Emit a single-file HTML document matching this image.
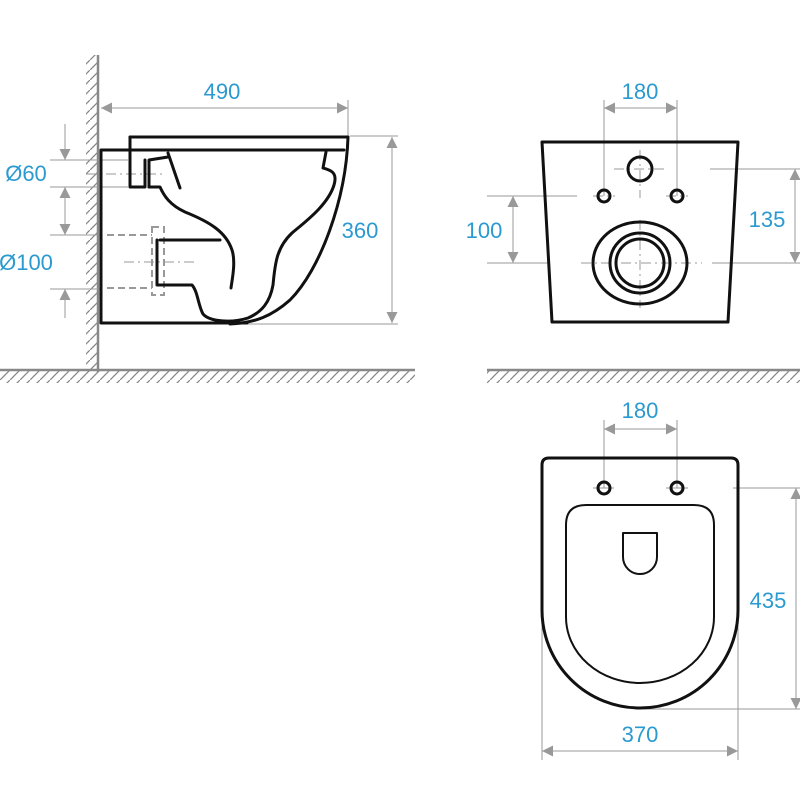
<!DOCTYPE html>
<html><head><meta charset="utf-8"><style>
html,body{margin:0;padding:0;background:#fff}
svg{display:block}
text{font-family:"Liberation Sans","DejaVu Sans",sans-serif;font-size:22px;fill:#2b9ad0}
</style></head><body>
<svg width="800" height="800" viewBox="0 0 800 800" xmlns="http://www.w3.org/2000/svg">
<defs>
<marker id="a" viewBox="0 0 10 10" refX="10" refY="5" markerWidth="17" markerHeight="11" markerUnits="userSpaceOnUse" orient="auto-start-reverse"><path d="M0,0L10,5L0,10z" fill="#999"/></marker>
<pattern id="hv" width="10" height="10" patternUnits="userSpaceOnUse"><path d="M0,10L10,0" stroke="#888" stroke-width="1.3"/></pattern>
</defs>
<g fill="none" stroke="#999" stroke-width="1">
<rect x="86" y="55" width="11" height="317" fill="url(#hv)" stroke="none"/>
<line x1="98" y1="55" x2="98" y2="372" stroke="#888" stroke-width="2.5"/>
<rect x="0" y="371" width="415" height="12" fill="url(#hv)" stroke="none"/>
<line x1="0" y1="370" x2="415" y2="370" stroke="#888" stroke-width="2.5"/>
<rect x="487" y="371" width="313" height="12" fill="url(#hv)" stroke="none"/>
<line x1="487" y1="370" x2="800" y2="370" stroke="#888" stroke-width="2.5"/>

<line x1="101" y1="108" x2="348" y2="108" marker-start="url(#a)" marker-end="url(#a)"/>
<line x1="348" y1="100" x2="348" y2="137"/>
<line x1="350" y1="136" x2="398" y2="136"/>
<line x1="247" y1="324" x2="398" y2="324"/>
<line x1="392" y1="137" x2="392" y2="323" marker-start="url(#a)" marker-end="url(#a)"/>
<line x1="50" y1="160" x2="128" y2="160"/>
<line x1="50" y1="187" x2="128" y2="187"/>
<line x1="50" y1="235" x2="101" y2="235"/>
<line x1="50" y1="289" x2="101" y2="289"/>
<line x1="65" y1="124" x2="65" y2="160" marker-end="url(#a)"/>
<line x1="65" y1="187" x2="65" y2="235" marker-start="url(#a)" marker-end="url(#a)"/>
<line x1="65" y1="318" x2="65" y2="289" marker-end="url(#a)"/>
<line x1="86" y1="174" x2="165" y2="174" stroke-dasharray="10,4,2,4"/>
<line x1="124" y1="262" x2="195" y2="262" stroke-dasharray="10,4,2,4"/>
<g stroke="#999" stroke-width="2" stroke-dasharray="7,4">
<rect x="152" y="227" width="12" height="68"/>
<line x1="107" y1="235" x2="152" y2="235"/>
<line x1="107" y1="288" x2="152" y2="288"/>
</g>

<line x1="604" y1="100" x2="604" y2="196"/>
<line x1="677" y1="100" x2="677" y2="196"/>
<line x1="604" y1="108" x2="677" y2="108" marker-start="url(#a)" marker-end="url(#a)"/>
<line x1="487" y1="196" x2="577" y2="196"/>
<line x1="487" y1="263" x2="548" y2="263"/>
<line x1="712" y1="263" x2="800" y2="263"/>
<line x1="710" y1="169" x2="800" y2="169"/>
<line x1="513" y1="196" x2="513" y2="263" marker-start="url(#a)" marker-end="url(#a)"/>
<line x1="795" y1="169" x2="795" y2="263" marker-start="url(#a)" marker-end="url(#a)"/>
<g stroke-dasharray="10,4,2,4">
<line x1="581" y1="263" x2="702" y2="263"/>
<line x1="640" y1="220" x2="640" y2="308"/>
<line x1="640" y1="150" x2="640" y2="198"/>
<line x1="614" y1="169" x2="666" y2="169"/>
<line x1="593" y1="196" x2="615" y2="196"/>
<line x1="666" y1="196" x2="688" y2="196"/>
</g>

<line x1="604" y1="420" x2="604" y2="488"/>
<line x1="677" y1="420" x2="677" y2="488"/>
<line x1="604" y1="429" x2="677" y2="429" marker-start="url(#a)" marker-end="url(#a)"/>
<line x1="733" y1="488" x2="800" y2="488"/>
<line x1="640" y1="709" x2="800" y2="709"/>
<line x1="796" y1="488" x2="796" y2="709" marker-start="url(#a)" marker-end="url(#a)"/>
<line x1="542" y1="610" x2="542" y2="760"/>
<line x1="738" y1="610" x2="738" y2="760"/>
<line x1="542" y1="751" x2="738" y2="751" marker-start="url(#a)" marker-end="url(#a)"/>
<line x1="593" y1="488" x2="614" y2="488"/>
<line x1="666" y1="488" x2="688" y2="488"/>
</g>

<g fill="none" stroke="#111" stroke-width="3" stroke-linejoin="round" stroke-linecap="round">
<path d="M101,150 H344 M101,150 V323 H247"/>
<path d="M130,137 H348 C346,200 320,270 290,300 C272,316 255,323 230,324"/>
<path d="M130,137 V187 H145 V160 M149,187 V160 L168,157"/>
<path d="M168,153 L180,188"/>
<path d="M149,187 H160 C164,196 170,205 185,212 C210,222 226,232 232,250 C236,262 232,280 231,288"/>
<path d="M160,240 H220"/>
<path d="M326,152 L323,168 C330,170 338,172 334,185 C328,205 305,222 292,233 C276,248 275,265 273,285 C270,302 262,312 248,318 C232,323 210,322 203,314 C198,305 198,292 192,285 H157 V240"/>
<path d="M542,142 H738 L728,322 H552 Z"/>
<circle cx="640" cy="169" r="12"/>
<circle cx="604" cy="196" r="6"/>
<circle cx="677" cy="196" r="6"/>
<ellipse cx="640" cy="263" rx="47" ry="41"/>
<circle cx="640" cy="263" r="30"/>
<circle cx="640" cy="263" r="24"/>
<path d="M542,610 V465 Q542,458 549,458 H731 Q738,458 738,465 V610 A98,98 0 0 1 542,610 Z"/>
<path d="M566,617 V525 Q566,505 586,505 H694 Q714,505 714,525 V617 A74,66 0 0 1 566,617 Z" stroke-width="2"/>
<path d="M623,533 H657 V557 A17,17 0 0 1 623,557 Z" stroke-width="2"/>
<circle cx="604" cy="488" r="6"/>
<circle cx="677" cy="488" r="6"/>
</g>

<text x="222" y="99" text-anchor="middle">490</text>
<text x="360" y="238" text-anchor="middle">360</text>
<text x="26" y="181" text-anchor="middle">Ø60</text>
<text x="26" y="270" text-anchor="middle">Ø100</text>
<text x="640" y="99" text-anchor="middle">180</text>
<text x="484" y="238" text-anchor="middle">100</text>
<text x="767" y="227" text-anchor="middle">135</text>
<text x="640" y="418" text-anchor="middle">180</text>
<text x="768" y="608" text-anchor="middle">435</text>
<text x="640" y="742" text-anchor="middle">370</text>
</svg>
</body></html>
